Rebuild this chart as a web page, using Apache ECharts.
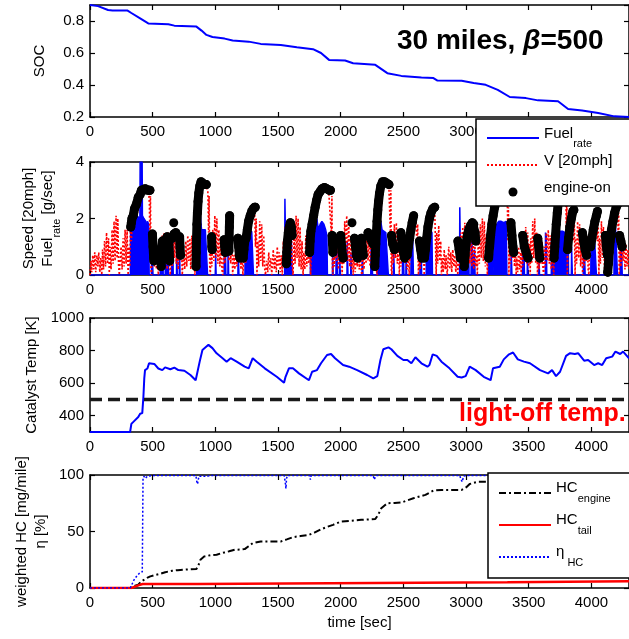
<!DOCTYPE html>
<html>
<head>
<meta charset="utf-8">
<title>30 miles, beta=500</title>
<script src="https://cdn.jsdelivr.net/npm/echarts@6/dist/echarts.min.js"></script>
<style>
	html, body { margin: 0; padding: 0; background: #fff; }
	#main { width: 629px; height: 639px; }
</style>
</head>
<body>
<div id="main"></div>
<script>
	var FONT = '"Liberation Sans", Arial, Helvetica, sans-serif';

	// time axis [sec]
	var tMin = 0, tMax = 4300, tStep = 500;

	// SOC [-]
	var socData = [[0,0.9],[64,0.893],[144,0.869],[180,0.866],[300,0.865],[330,0.85],[400,0.817],[465,0.785],[625,0.78],[673,0.771],[849,0.765],[890,0.74],[929,0.713],[977,0.70],[1074,0.69],[1138,0.678],[1266,0.671],[1362,0.657],[1522,0.65],[1650,0.636],[1779,0.624],[1843,0.6],[1907,0.557],[2035,0.553],[2099,0.536],[2276,0.526],[2372,0.474],[2484,0.457],[2644,0.447],[2740,0.443],[2772,0.428],[2965,0.426],[3061,0.412],[3157,0.401],[3253,0.37],[3349,0.325],[3478,0.318],[3574,0.304],[3734,0.298],[3814,0.25],[3926,0.24],[4054,0.225],[4183,0.204],[4300,0.2]];

	// fuel rate [g/sec]
	var fuelData = [[0,0],[322,0],[324,1.6],[332,1.7],[340,1.9],[350,2.0],[360,2.0],[372,2.1],[385,2.1],[398,2.0],[400,4.0],[416,4.0],[418,2.1],[430,2.0],[445,1.9],[452,1.2],[458,1.9],[468,1.8],[472,0],
		[490,0],[492,1.0],[498,0.9],[502,0],
		[560,0],[562,0.9],[566,0],[578,0],[580,1.2],[584,0],[600,0],[602,1.0],[606,0],[620,0],[622,1.2],[626,0],
		[652,0],[654,1.3],[660,1.2],[664,0],[690,0],[692,1.3],[696,0],[712,0],[714,1.4],[718,0],
		[850,0],[852,1.0],[860,1.4],[870,1.9],[880,2.1],[886,2.1],[890,1.6],[905,1.6],[920,1.6],[935,1.6],[938,0],
		[1000,0],[1002,0.8],[1006,0],
		[1070,0],[1072,1.2],[1080,1.1],[1084,0],[1100,0],[1102,1.2],[1106,0],
		[1180,0],[1182,1.1],[1188,0],
		[1236,0],[1238,1.2],[1248,1.2],[1252,0],[1262,0],[1264,1.3],[1276,1.4],[1290,1.55],[1300,1.6],[1304,0],
		[1553,0],[1555,2.7],[1562,2.7],[1564,0],[1572,0],[1574,1.5],[1590,1.6],[1606,1.5],[1612,0],
		[1758,0],[1760,1.4],[1772,1.5],[1784,1.6],[1796,1.7],[1810,2.0],[1818,2.0],[1822,1.6],[1836,1.8],[1850,1.9],[1866,1.8],[1880,1.6],[1890,1.4],[1894,0],
		[1934,0],[1936,1.0],[1940,0],[1962,0],[1964,1.2],[1970,1.0],[1974,0],[1990,0],[1992,1.1],[1996,0],
		[2050,0],[2052,1.2],[2058,0],[2080,0],[2082,0.8],[2086,0],
		[2170,0],[2172,1.0],[2178,0],[2240,0],[2242,1.1],[2250,1.0],[2254,0],
		[2290,0],[2292,1.2],[2300,1.5],[2310,1.7],[2320,1.9],[2326,1.9],[2330,1.6],[2345,1.6],[2360,1.5],[2374,1.5],[2380,0],
		[2420,0],[2422,1.0],[2428,0],[2492,0],[2494,1.2],[2500,1.1],[2504,0],[2520,0],[2522,0.9],[2526,0],
		[2560,0],[2562,1.3],[2574,1.4],[2580,0],[2632,0],[2634,1.3],[2642,1.2],[2646,0],
		[2682,0],[2684,1.4],[2700,1.5],[2716,1.6],[2728,1.5],[2732,0],
		[2948,0],[2950,2.4],[2956,2.4],[2958,0],[2972,0],[2974,1.0],[2980,0],[2995,0],[2997,1.3],[3010,1.4],[3020,1.3],[3024,0],[3040,0],[3042,1.2],[3050,1.0],[3054,0],[3066,0],[3068,0.9],[3072,0],
		[3180,0],[3182,1.3],[3196,1.45],[3210,1.4],[3214,0],[3228,0],[3230,1.6],[3245,1.8],[3260,1.9],[3280,1.9],[3300,1.85],[3320,1.9],[3326,0],
		[3358,0],[3360,1.0],[3366,0],[3450,0],[3452,1.0],[3462,0.9],[3466,0],[3488,0],[3490,1.0],[3494,0],[3580,0],[3582,0.8],[3586,0],
		[3632,0],[3634,1.5],[3640,1.4],[3644,0],
		[3680,0],[3682,1.3],[3695,1.45],[3710,1.5],[3730,1.55],[3750,1.55],[3770,1.55],[3790,1.5],[3805,1.4],[3815,1.3],[3818,0],
		[3840,0],[3842,1.0],[3848,0],[3935,0],[3937,1.0],[3945,0.9],[3950,0],
		[3995,0],[3997,1.1],[4010,1.2],[4025,1.3],[4035,1.3],[4040,0],
		[4112,0],[4114,1.0],[4120,0],[4180,0],[4182,1.5],[4192,1.75],[4202,1.7],[4208,0],[4230,0],[4232,1.2],[4240,1.1],[4246,0],[4300,0]];

	// vehicle speed [20 mph]
	var speedData = [[0,0],[8,0.5],[14,0.1],[22,0.7],[30,0.2],[38,0.8],[46,0.1],[54,0.7],[62,0.3],[70,0.8],[78,0.1],[86,0.6],[94,0],
		[100,0.9],[108,0.2],[116,1.2],[124,0.3],[132,1.5],[140,0.4],[148,1.3],[154,0],
		[160,1.0],[168,0.2],[176,1.6],[184,0.4],[192,1.9],[200,0.5],[208,2.1],[216,0.6],[222,2.0],[228,0.3],[234,0],
		[240,0.5],[248,1.0],[256,0.2],[264,1.3],[272,0.3],[280,1.6],[288,0.4],[296,1.6],[304,0],
		[312,1.0],[318,0.3],[324,2.2],[330,1.2],[338,2.0],[346,1.6],[354,2.3],[362,2.0],[372,2.5],[380,2.2],[390,2.8],[400,2.6],[412,3.0],[425,2.9],[440,3.0],[455,3.0],[468,3.0],[474,2.5],[478,1.0],[482,2.8],[486,0.2],[490,0],
		[496,1.4],[502,0.5],[508,1.5],[514,0.3],[522,0.8],[530,0.2],[538,0.6],[545,0],
		[552,0.6],[560,1.2],[568,0.3],[576,1.4],[584,0.5],[592,1.5],[600,0.4],[608,1.3],[616,0.2],[624,1.5],[632,0.6],[640,0],
		[648,1.0],[656,0.3],[664,1.5],[672,0.6],[680,1.6],[688,0.4],[696,1.4],[704,0.2],[712,1.5],[720,0.5],[728,1.3],[736,0],
		[748,0.8],[756,0.2],[764,1.2],[772,0.3],[780,1.4],[788,0.5],[796,1.3],[804,0.2],[812,1.4],[820,0.4],[828,1.0],[836,0],
		[842,0.5],[848,0.2],[852,1.0],[858,1.5],[864,2.2],[870,2.8],[878,3.1],[888,3.3],[900,3.3],[915,3.2],[930,3.2],[940,3.0],[946,1.5],[950,2.8],[955,0.3],[960,0],
		[966,1.0],[972,0.3],[980,1.6],[988,0.5],[996,2.1],[1004,0.6],[1012,2.0],[1020,0.4],[1028,1.6],[1036,0.3],[1044,1.3],[1052,0.2],[1060,0],
		[1068,1.0],[1076,0.4],[1084,1.6],[1092,0.8],[1100,2.0],[1108,0.5],[1114,2.2],[1122,0.4],[1130,1.8],[1138,0],
		[1148,0.7],[1156,0.2],[1164,1.2],[1172,0.3],[1180,1.4],[1188,0.5],[1196,1.3],[1204,0.2],[1212,0.9],[1220,0],
		[1226,0.6],[1234,1.1],[1242,0.4],[1250,1.3],[1258,1.5],[1266,1.8],[1274,2.0],[1284,2.2],[1294,2.3],[1304,2.4],[1314,2.2],[1320,1.0],[1326,2.0],[1332,0],
		[1338,1.2],[1346,0.3],[1354,1.9],[1362,0.5],[1370,1.8],[1378,0.3],[1386,1.4],[1394,0.2],[1400,0],
		[1410,0.5],[1418,0.1],[1426,0.8],[1434,0.2],[1442,0.6],[1450,0],[1462,0.9],[1470,0.2],[1478,0.7],[1486,0.1],[1494,1.0],[1502,0.3],[1510,0.8],[1518,0.1],[1526,0.7],[1534,0],
		[1542,1.2],[1550,0.3],[1558,1.7],[1566,0.5],[1574,1.9],[1582,0.6],[1590,2.0],[1598,0.4],[1606,1.8],[1614,0.3],[1620,0],
		[1628,1.4],[1636,0.4],[1644,2.1],[1652,0.6],[1660,2.0],[1668,0.3],[1676,1.7],[1684,0.2],[1692,1.2],[1700,0],
		[1706,0.8],[1714,0.2],[1722,1.4],[1730,0.3],[1738,1.6],[1746,0.4],[1754,1.2],[1760,0],
		[1764,0.6],[1770,1.4],[1776,0.8],[1782,1.5],[1790,1.7],[1800,1.9],[1810,2.2],[1822,2.5],[1834,2.7],[1846,2.9],[1858,3.0],[1872,3.1],[1888,3.1],[1904,3.0],[1918,3.0],[1926,1.4],[1930,2.8],[1934,0.2],[1938,0],
		[1942,1.0],[1950,0.3],[1958,1.4],[1966,0.5],[1974,1.3],[1982,0.2],[1990,1.2],[1998,0.4],[2006,0.9],[2012,0],
		[2016,1.2],[2024,0.4],[2032,1.9],[2040,0.6],[2048,2.1],[2056,0.5],[2064,1.8],[2072,0.3],[2080,1.4],[2088,0.2],[2096,0.8],[2100,0],
		[2108,0.7],[2116,0.1],[2124,1.1],[2132,0.3],[2140,1.2],[2148,0.2],[2156,0.9],[2164,0.1],[2170,0],
		[2178,0.8],[2186,0.2],[2194,1.3],[2202,0.4],[2210,1.5],[2218,0.5],[2226,1.4],[2234,0.3],[2242,1.5],[2250,0.6],[2258,1.3],[2266,0.2],[2274,1.0],[2282,0.3],[2290,0],
		[2294,0.6],[2300,1.2],[2306,1.8],[2312,2.3],[2320,2.7],[2330,3.0],[2342,3.2],[2356,3.3],[2370,3.3],[2384,3.2],[2392,3.2],[2396,1.5],[2400,3.0],[2404,0.2],[2408,0],
		[2412,1.2],[2420,0.4],[2428,1.8],[2436,0.6],[2444,1.85],[2452,0.4],[2460,1.4],[2468,0],
		[2474,0.8],[2482,0.3],[2490,1.3],[2498,0.5],[2506,1.5],[2514,0.4],[2522,1.4],[2530,0.2],[2538,1.1],[2546,0],
		[2552,0.7],[2560,1.2],[2568,1.5],[2576,1.7],[2584,1.9],[2592,2.0],[2600,2.1],[2608,1.0],[2614,1.8],[2620,0],
		[2626,0.9],[2634,0.2],[2642,1.3],[2650,0.5],[2658,1.2],[2666,0],
		[2672,0.6],[2680,1.1],[2688,1.4],[2698,1.7],[2708,1.9],[2718,2.1],[2728,2.3],[2740,2.4],[2750,2.3],[2756,1.2],[2762,0],
		[2766,1.5],[2774,0.4],[2782,1.75],[2790,0.5],[2798,1.2],[2804,0],
		[2810,0.6],[2818,0.1],[2826,0.9],[2834,0.2],[2842,0.7],[2850,0],[2862,1.0],[2870,0.2],[2878,0.8],[2886,0.1],[2894,0.9],[2902,0.3],[2910,0.7],[2918,0.1],[2926,0.6],[2934,0],
		[2942,1.0],[2950,0.3],[2958,1.5],[2966,0.5],[2974,1.7],[2982,0.6],[2990,1.85],[2998,0.5],[3006,1.8],[3014,0.7],[3022,1.9],[3030,0.4],[3038,1.6],[3046,0.3],[3054,1.4],[3062,0.2],[3070,1.1],[3078,0.3],[3086,0.7],[3090,0],
		[3098,1.3],[3106,0.4],[3114,1.8],[3122,0.6],[3130,2.0],[3138,0.5],[3146,1.9],[3154,0.3],[3162,1.4],[3170,0],
		[3174,0.6],[3180,1.1],[3188,1.5],[3196,1.8],[3206,2.1],[3216,2.4],[3228,2.6],[3240,2.8],[3256,3.0],[3280,3.0],[3300,2.9],[3320,3.0],[3330,2.4],[3334,1.2],[3338,2.4],[3342,0],
		[3346,1.2],[3354,0.4],[3362,1.85],[3370,0.6],[3378,1.6],[3386,0.3],[3394,1.0],[3400,0],
		[3404,0.6],[3412,0.1],[3420,1.0],[3428,0.2],[3436,0.8],[3440,0],
		[3444,1.0],[3452,0.3],[3460,1.5],[3468,0.5],[3476,1.7],[3484,0.4],[3492,1.5],[3500,0.3],[3508,1.1],[3512,0],
		[3516,1.3],[3524,0.4],[3532,1.9],[3540,0.6],[3548,2.0],[3556,0.4],[3564,1.5],[3570,0],
		[3574,0.8],[3582,0.2],[3590,1.3],[3598,0.4],[3606,1.2],[3614,0.2],[3620,0],
		[3624,1.0],[3632,0.3],[3640,1.5],[3648,0.5],[3656,1.6],[3664,0.4],[3672,1.4],[3680,0.2],[3688,1.0],[3696,0.2],[3700,0],
		[3702,0.5],[3708,1.0],[3714,1.4],[3720,1.8],[3728,2.2],[3736,2.6],[3746,2.9],[3758,3.1],[3772,3.3],[3786,3.3],[3796,3.2],[3800,1.5],[3804,3.0],[3808,0],
		[3812,1.0],[3818,1.5],[3826,1.8],[3834,2.0],[3842,2.2],[3850,2.3],[3858,1.2],[3864,2.0],[3870,0],
		[3874,1.3],[3882,0.4],[3890,1.9],[3898,0.6],[3906,1.8],[3914,0.3],[3922,1.3],[3930,0],
		[3934,0.9],[3942,0.3],[3950,1.5],[3958,0.5],[3966,1.4],[3974,0.2],[3980,0],
		[3984,0.7],[3992,1.1],[4000,1.4],[4010,1.7],[4020,1.9],[4030,2.1],[4040,2.25],[4048,1.2],[4054,2.0],[4060,0],
		[4064,1.3],[4072,0.4],[4080,1.9],[4088,0.6],[4096,1.7],[4104,0.3],[4110,0],
		[4114,0.8],[4122,1.0],[4130,0.5],[4138,1.0],[4146,1.4],[4156,1.7],[4166,2.0],[4178,2.2],[4190,2.4],[4202,2.5],[4210,2.4],[4214,1.2],[4218,2.2],[4222,0],
		[4228,1.0],[4236,0.3],[4244,1.4],[4252,0.5],[4260,1.3],[4268,0.2],[4276,1.1],[4284,0.3],[4292,0.9],[4300,0.2]];

	// engine-on samples [20 mph], one list per run of samples
	var engineOnRuns = [
		[[325,1.7],[330,1.85],[335,2.0],[345,2.1],[355,2.35],[370,2.5],[385,2.75],[400,2.85],[410,3.0],[425,3.0],[440,3.05],[455,3.0],[470,3.0],[478,3.0]],
		[[498,1.45],[503,1.0],[508,0.6],[510,0.5]],
		[[568,0.3],[572,0.9],[578,1.2],[585,1.0],[590,0.6],[595,0.9],[605,1.2],[615,1.35]],
		[[628,1.3],[632,0.8],[636,0.5]],
		[[655,1.3],[670,1.45],[685,1.5]],
		[[668,1.85]],
		[[715,1.35],[718,1.0],[722,0.7]],
		[[846,0.3],[848,0.8],[850,1.3],[853,1.8],[857,2.2],[862,2.6],[868,2.9],[876,3.15],[886,3.3],[900,3.25],[915,3.2],[928,3.2]],
		[[970,1.35],[972,1.0],[975,0.9]],
		[[1070,1.25],[1075,1.0],[1080,0.8]],
		[[1108,0.85],[1110,1.3],[1112,1.7],[1114,2.1]],
		[[1180,1.3],[1186,1.0],[1192,0.7],[1196,0.6]],
		[[1222,0.6],[1228,0.9],[1235,1.2],[1245,1.3],[1255,1.6],[1265,1.9],[1278,2.1],[1290,2.25],[1302,2.35],[1312,2.4],[1318,2.4]],
		[[1566,0.4],[1570,0.8],[1575,1.2],[1582,1.5],[1590,1.7],[1598,1.85],[1606,1.7],[1612,1.4]],
		[[1752,0.8],[1756,1.2],[1762,1.55],[1772,1.8],[1784,2.1],[1796,2.4],[1808,2.65],[1820,2.85],[1835,2.95],[1850,3.05],[1870,3.1],[1890,3.05],[1910,3.0],[1918,3.0]],
		[[1932,1.4],[1935,1.1],[1938,0.8]],
		[[2000,1.4],[2008,1.0],[2015,0.7],[2020,0.6]],
		[[2090,1.85]],
		[[2110,1.3],[2118,1.0],[2126,0.7],[2134,0.6]],
		[[2165,1.3],[2172,1.0],[2180,0.7]],
		[[2218,1.5],[2230,1.35],[2245,1.3],[2258,1.1]],
		[[2272,0.3],[2276,0.7],[2280,1.1],[2285,1.5],[2290,1.9],[2296,2.3],[2302,2.6],[2310,2.9],[2320,3.15],[2334,3.3],[2350,3.3],[2368,3.25],[2385,3.2]],
		[[2405,1.4],[2415,1.1],[2428,0.9],[2440,1.0]],
		[[2480,1.5],[2490,1.1],[2500,0.8],[2510,0.6]],
		[[2530,0.7],[2540,1.0],[2550,1.3],[2560,1.6],[2570,1.85],[2582,2.1]],
		[[2628,1.2],[2638,0.9],[2648,0.6]],
		[[2668,0.6],[2676,0.9],[2686,1.3],[2696,1.7],[2708,2.0],[2720,2.2],[2735,2.35],[2750,2.4]],
		[[2935,1.2],[2945,0.9],[2955,0.6]],
		[[2985,0.3],[2992,0.7],[3000,1.1],[3010,1.4],[3022,1.6],[3035,1.75],[3050,1.85],[3062,1.8],[3072,1.5],[3078,1.2]],
		[[3180,0.6],[3188,1.0],[3196,1.4],[3206,1.8],[3216,2.1],[3228,2.4],[3240,2.65],[3255,2.85],[3275,3.0],[3300,3.0],[3320,3.0]],
		[[3358,1.85],[3366,1.4],[3374,1.0],[3380,0.8]],
		[[3452,1.4],[3465,1.0],[3480,0.8],[3495,0.6]],
		[[3572,1.3],[3580,1.0],[3588,0.6]],
		[[3702,0.6],[3708,1.0],[3714,1.4],[3720,1.8],[3728,2.2],[3736,2.6],[3746,2.9],[3760,3.1],[3775,3.3],[3790,3.3]],
		[[3810,0.9],[3818,1.3],[3828,1.7],[3840,2.0],[3852,2.25],[3860,2.3]],
		[[3928,1.5],[3938,1.2],[3950,0.9],[3962,0.7]],
		[[3994,1.0],[4004,1.3],[4015,1.6],[4028,1.9],[4040,2.1],[4048,2.25]],
		[[4112,1.4],[4120,1.0],[4128,0.7]],
		[[4130,0.1],[4136,0.4],[4142,0.8],[4150,1.2],[4160,1.6],[4172,1.9],[4185,2.2],[4198,2.4],[4208,2.5]],
		[[4225,1.4],[4235,1.2],[4245,1.0]]
	];

	// catalyst temperature [K]
	var tempData = [[0,300],[320,300],[330,350],[352,367],[385,392],[400,412],[417,416],[426,515],[433,629],[439,680],[458,690],[471,722],[513,718],[545,690],[577,680],[599,697],[641,685],[673,695],[705,680],[753,676],[801,650],[843,618],[855,629],[875,732],[897,804],[929,825],[945,835],[977,815],[1010,783],[1058,753],[1090,732],[1122,753],[1170,732],[1234,701],[1266,691],[1298,753],[1330,732],[1394,691],[1490,639],[1548,602],[1560,639],[1587,691],[1619,691],[1667,660],[1747,618],[1772,670],[1811,680],[1843,722],[1891,773],[1923,779],[1955,753],[2019,711],[2067,701],[2131,680],[2211,650],[2260,629],[2292,643],[2317,742],[2340,808],[2381,820],[2404,808],[2452,767],[2500,742],[2532,742],[2564,722],[2596,759],[2644,722],[2692,701],[2708,711],[2734,777],[2766,767],[2804,732],[2868,691],[2933,639],[2965,635],[2997,643],[3029,701],[3077,680],[3141,639],[3196,618],[3215,691],[3269,701],[3301,746],[3343,777],[3375,788],[3413,746],[3462,732],[3510,722],[3590,680],[3654,660],[3686,680],[3718,643],[3750,670],[3798,767],[3830,784],[3868,779],[3894,784],[3942,738],[3974,742],[4022,711],[4054,722],[4086,711],[4118,753],[4166,763],[4192,794],[4230,779],[4253,794],[4300,753]];
	var lightOffTemp = 500;

	// weighted HC [mg/mile] and efficiency [%]
	var hcEngineData = [[0,0],[320,0],[337,1],[360,2],[385,3],[410,6],[433,7.4],[455,9],[481,10.3],[520,11.5],[561,12.6],[600,14],[657,15.3],[700,15.8],[753,16.2],[800,16.5],[849,16.8],[865,20],[881,25],[913,28],[960,29],[1010,29.4],[1040,30.5],[1074,31.5],[1110,32.5],[1154,33.8],[1200,34],[1234,34.4],[1265,37],[1298,39.7],[1362,41.2],[1450,41.2],[1522,41.2],[1570,43],[1619,45],[1680,46],[1747,47],[1790,49],[1843,52],[1890,54],[1939,55.9],[2003,58.8],[2080,59.5],[2163,60.3],[2220,60.7],[2276,61],[2300,65],[2324,70.6],[2350,73],[2372,75],[2430,75.3],[2484,75.6],[2530,77.5],[2580,79.4],[2630,81],[2676,82.4],[2710,84.5],[2740,86.2],[2804,86.8],[2900,86.8],[2965,86.8],[3000,89],[3029,92],[3060,93],[3093,94],[3173,94],[3250,96],[3350,99],[3450,101],[3600,104],[3800,107],[4000,110],[4300,114]];
	var hcTailData = [[0,0],[330,0],[360,1.2],[390,2.5],[420,3.5],[860,3.5],[872,5],[3330,5],[3340,5.9],[4300,5.9]];
	var etaData = [[0,0],[320,0],[330,2],[337,3],[350,7],[369,10],[394,13],[417,14.4],[420,14],[423,97],[430,99],[440,97],[460,99],[500,99.5],[845,99.5],[852,94],[858,92],[864,96],[870,99],[940,99],[960,99.5],[1550,99.5],[1558,93],[1563,88],[1568,97],[1575,99.5],[1750,99.5],[1758,96],[1764,99.5],[2260,99.5],[2266,96],[2275,97],[2285,99.5],[2950,99.5],[2960,96],[2970,94],[2980,99],[3000,99.5],[4300,99.5]];

	// break runs with empty points so one series draws them all
	var engineOnData = [];
	engineOnRuns.forEach(function(run, i) {
		if(i > 0) engineOnData.push(['-', '-']);
		run.forEach(function(p) { engineOnData.push(p); });
	});

	var grids = [
		{ left: 90, right: -2, top: 5, height: 112 },
		{ left: 90, right: -2, top: 162, height: 113 },
		{ left: 90, right: -2, top: 318, height: 114 },
		{ left: 90, right: -2, top: 475, height: 113 }
	];

	// plain numbers, no thousands separator
	var plainNum = function(v) { return String(+v.toFixed(1)); };

	var axisLineStyle = { show: true, onZero: false, lineStyle: { color: '#000', width: 1.5 } };
	var tickStyle = { show: true, inside: true, length: 5, lineStyle: { color: '#000', width: 1.2 } };
	var labelStyle = { color: '#000', fontSize: 15, fontFamily: FONT, formatter: plainNum };

	var xAxes = [], yAxes = [];
	for(var g = 0; g < 4; g++) {
		xAxes.push({
			type: 'value', gridIndex: g, position: 'bottom', min: tMin, max: tMax, interval: tStep,
			axisLine: axisLineStyle, axisTick: tickStyle, splitLine: { show: false },
			axisLabel: Object.assign({ margin: 7, showMaxLabel: false }, labelStyle)
		});
		xAxes.push({
			type: 'value', gridIndex: g, position: 'top', min: tMin, max: tMax, interval: tStep,
			axisLine: axisLineStyle, axisTick: tickStyle, splitLine: { show: false },
			axisLabel: { show: false }
		});
	}
	xAxes[6].name = 'time [sec]';
	xAxes[6].nameLocation = 'middle';
	xAxes[6].nameGap = 27;
	xAxes[6].nameTextStyle = { color: '#000', fontSize: 15, fontFamily: FONT };

	var nameRich = {
		m: { fontSize: 15, fontFamily: FONT, color: '#000', lineHeight: 19, verticalAlign: 'top' },
		s: { fontSize: 11, fontFamily: FONT, color: '#000', lineHeight: 12, padding: [11, 0, 0, 0], verticalAlign: 'top' }
	};
	var yDefs = [
		{ min: 0.2, max: 0.9, interval: 0.2, name: '{m|SOC}', gap: 39 },
		{ min: 0, max: 4, interval: 2, name: '{m|Speed [20mph]}\n{m|Fuel}{s|rate}{m| [g/sec]}', gap: 31 },
		{ min: 300, max: 1000, interval: 100, custom: [400, 600, 800, 1000], name: '{m|Catalyst Temp [K]}', gap: 38 },
		{ min: 0, max: 100, interval: 50, name: '{m|weighted HC [mg/mile]}\n{m|η [%]}', gap: 38 }
	];
	yDefs.forEach(function(d, g) {
		var left = {
			type: 'value', gridIndex: g, position: 'left', min: d.min, max: d.max, interval: d.interval,
			axisLine: axisLineStyle, axisTick: Object.assign({}, tickStyle), splitLine: { show: false },
			axisLabel: Object.assign({ margin: 6, showMaxLabel: g !== 0 }, labelStyle),
			name: d.name, nameLocation: 'middle', nameRotate: 90, nameGap: d.gap,
			nameTextStyle: { rich: nameRich, align: 'center' }
		};
		var right = {
			type: 'value', gridIndex: g, position: 'right', min: d.min, max: d.max, interval: d.interval,
			axisLine: axisLineStyle, axisTick: Object.assign({}, tickStyle), splitLine: { show: false },
			axisLabel: { show: false }
		};
		if(d.custom) {
			left.axisLabel.customValues = d.custom;
			left.axisTick.customValues = d.custom;
			right.axisTick.customValues = d.custom;
		}
		yAxes.push(left, right);
	});

	var legendRich = function(lh) {
		return {
			m: { fontSize: 15, fontFamily: FONT, color: '#000', lineHeight: lh, verticalAlign: 'top' },
			s: { fontSize: 11, fontFamily: FONT, color: '#000', lineHeight: 12, padding: [lh / 2, 0, 0, 0], verticalAlign: 'top' }
		};
	};
	var legendNames = {
		'Fuel_rate': '{m|Fuel}{s|rate}',
		'V [20mph]': '{m|V [20mph]}',
		'engine-on': '{m|engine-on}',
		'HC_engine': '{m|HC}{s|engine}',
		'HC_tail': '{m|HC}{s|tail}',
		'eta_HC': '{m|η}{s| HC}'
	};
	// line-only legend sample: hide the marker ECharts puts in the middle
	var noMarker = { color: 'rgba(0,0,0,0)', borderColor: 'rgba(0,0,0,0)', borderWidth: 0 };

	var myChart = echarts.init(document.getElementById('main'), null, { renderer: 'canvas' });
	var option = {
		animation: false,
		backgroundColor: '#fff',
		textStyle: { fontFamily: FONT },
		grid: grids,
		xAxis: xAxes,
		yAxis: yAxes,
		legend: [{
			data: [
				{ name: 'Fuel_rate', itemStyle: noMarker },
				{ name: 'V [20mph]', itemStyle: noMarker },
				{ name: 'engine-on', icon: 'circle' }
			],
			orient: 'vertical', left: 476, top: 119, padding: [7, 40, 2, 10],
			itemGap: 3, itemWidth: 52, itemHeight: 9, selectedMode: false,
			backgroundColor: '#fff', borderColor: '#000', borderWidth: 1.5, borderRadius: 0,
			textStyle: { fontSize: 15, color: '#000', lineHeight: 24, rich: legendRich(24) },
			formatter: function(name) { return legendNames[name]; }
		}, {
			data: [
				{ name: 'HC_engine', itemStyle: noMarker },
				{ name: 'HC_tail', itemStyle: noMarker },
				{ name: 'eta_HC', itemStyle: noMarker }
			],
			orient: 'vertical', left: 488, top: 473, padding: [7, 40, 8, 10],
			itemGap: 6, itemWidth: 52, itemHeight: 9, selectedMode: false,
			backgroundColor: '#fff', borderColor: '#000', borderWidth: 1.5, borderRadius: 0,
			textStyle: { fontSize: 15, color: '#000', lineHeight: 26, rich: legendRich(26) },
			formatter: function(name) { return legendNames[name]; }
		}],
		graphic: [{
			type: 'text', x: 397, y: 41,
			style: {
				text: '{a|30 miles, }{b|β}{a|=500}',
				verticalAlign: 'middle',
				rich: {
					a: { fontSize: 28, fontWeight: 'bold', fontFamily: FONT, fill: '#000' },
					b: { fontSize: 28, fontWeight: 'bold', fontStyle: 'italic', fontFamily: FONT, fill: '#000' }
				}
			}
		}, {
			type: 'text', x: 459, y: 414,
			style: {
				text: 'light-off temp.', verticalAlign: 'middle',
				font: 'bold 25px ' + FONT, fill: '#ff0000'
			}
		}],
		series: [{
			name: 'SOC', type: 'line', xAxisIndex: 0, yAxisIndex: 0, data: socData,
			symbol: 'none', lineStyle: { color: '#0000ff', width: 2 }
		}, {
			name: 'Fuel_rate', type: 'line', xAxisIndex: 2, yAxisIndex: 2, data: fuelData,
			symbol: 'none', itemStyle: { color: '#0000ff' },
			lineStyle: { color: '#0000ff', width: 1.5 },
			areaStyle: { color: '#0000ff', opacity: 1 }
		}, {
			name: 'V [20mph]', type: 'line', xAxisIndex: 2, yAxisIndex: 2, data: speedData,
			symbol: 'none', itemStyle: { color: '#ff0000' },
			lineStyle: { color: '#ff0000', width: 1.6, type: [2, 2] }
		}, {
			name: 'engine-on', type: 'line', xAxisIndex: 2, yAxisIndex: 2, data: engineOnData,
			connectNulls: false, symbol: 'circle', symbolSize: 9, showAllSymbol: true,
			itemStyle: { color: '#000' },
			lineStyle: { color: '#000', width: 9, cap: 'round', join: 'round' }
		}, {
			name: 'Catalyst Temp', type: 'line', xAxisIndex: 4, yAxisIndex: 4, data: tempData,
			symbol: 'none', lineStyle: { color: '#0000ff', width: 2 }
		}, {
			name: 'light-off', type: 'line', xAxisIndex: 4, yAxisIndex: 4,
			data: [[tMin, lightOffTemp], [tMax, lightOffTemp]],
			symbol: 'none', lineStyle: { color: '#1a1a1a', width: 3.5, type: [12, 6] }
		}, {
			name: 'HC_engine', type: 'line', xAxisIndex: 6, yAxisIndex: 6, data: hcEngineData,
			symbol: 'none', itemStyle: { color: '#000' },
			lineStyle: { color: '#000', width: 2, type: [7, 3, 2, 3] }
		}, {
			name: 'HC_tail', type: 'line', xAxisIndex: 6, yAxisIndex: 6, data: hcTailData,
			symbol: 'none', itemStyle: { color: '#ff0000' },
			lineStyle: { color: '#ff0000', width: 2.5 }
		}, {
			name: 'eta_HC', type: 'line', xAxisIndex: 6, yAxisIndex: 6, data: etaData,
			symbol: 'none', itemStyle: { color: '#0000ff' },
			lineStyle: { color: '#0000ff', width: 1.5, type: [2, 2] }
		}]
	};
	myChart.setOption(option);
</script>
</body>
</html>
